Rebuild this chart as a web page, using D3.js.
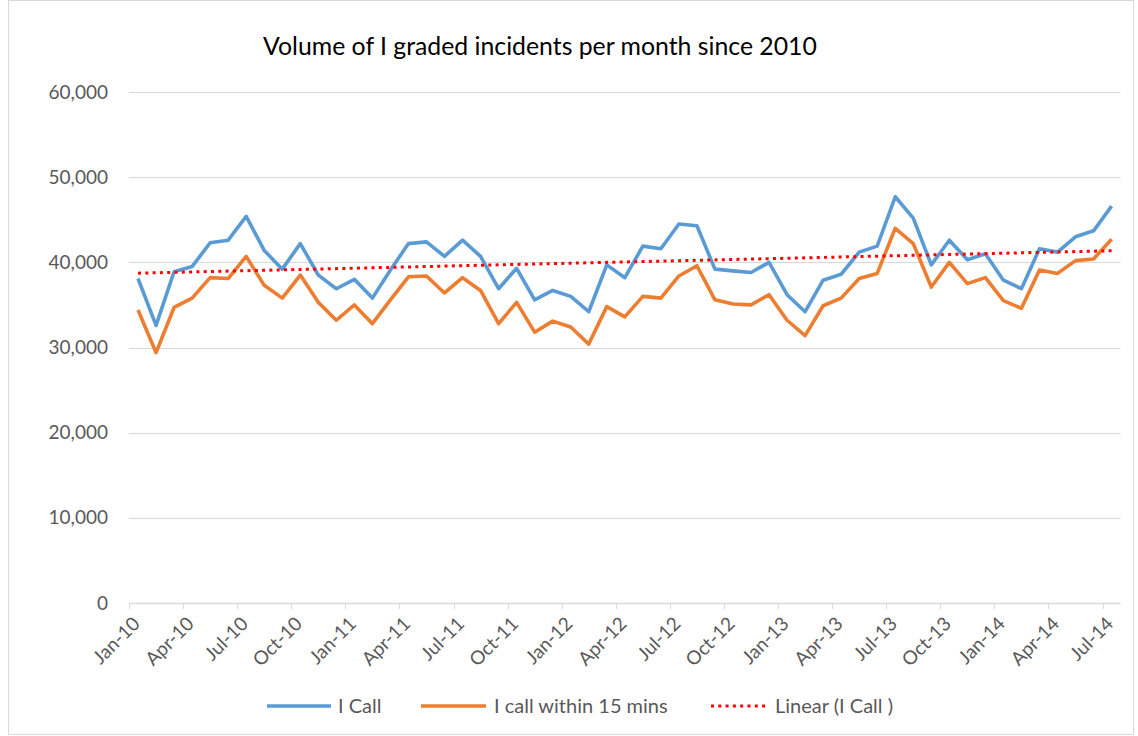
<!DOCTYPE html>
<html>
<head>
<meta charset="utf-8">
<script src="https://cdn.jsdelivr.net/npm/d3@7"></script>
<style>
  html, body { margin: 0; padding: 0; background: #fff; }
  svg { display: block; font-family: Lato, "Open Sans", sans-serif; }
</style>
</head>
<body>
<svg id="chart" width="1138" height="736"></svg>
<script>
// ---- Data ----
const months = [
  "Jan-10","Feb-10","Mar-10","Apr-10","May-10","Jun-10","Jul-10","Aug-10","Sep-10","Oct-10","Nov-10","Dec-10",
  "Jan-11","Feb-11","Mar-11","Apr-11","May-11","Jun-11","Jul-11","Aug-11","Sep-11","Oct-11","Nov-11","Dec-11",
  "Jan-12","Feb-12","Mar-12","Apr-12","May-12","Jun-12","Jul-12","Aug-12","Sep-12","Oct-12","Nov-12","Dec-12",
  "Jan-13","Feb-13","Mar-13","Apr-13","May-13","Jun-13","Jul-13","Aug-13","Sep-13","Oct-13","Nov-13","Dec-13",
  "Jan-14","Feb-14","Mar-14","Apr-14","May-14","Jun-14","Jul-14"
];
const iCall = [
  38100, 32600, 38900, 39500, 42300, 42600, 45400, 41400, 39200, 42200, 38500, 36900,
  38000, 35800, 39100, 42200, 42400, 40700, 42600, 40700, 36900, 39300, 35600, 36700,
  36000, 34200, 39700, 38200, 41900, 41600, 44500, 44300, 39200, 39000, 38800, 40000,
  36200, 34200, 37900, 38600, 41200, 41900, 47700, 45200, 39700, 42600, 40300, 41000,
  37900, 36900, 41600, 41200, 43000, 43700, 46600
];
const iCall15 = [
  34400, 29400, 34700, 35800, 38200, 38100, 40700, 37300, 35800, 38500, 35300, 33200,
  35000, 32800, 35600, 38300, 38400, 36400, 38200, 36700, 32800, 35300, 31800, 33100,
  32400, 30400, 34800, 33600, 36000, 35800, 38400, 39600, 35600, 35100, 35000, 36200,
  33200, 31400, 34900, 35800, 38100, 38700, 44000, 42200, 37100, 40000, 37500, 38200,
  35500, 34600, 39100, 38700, 40200, 40400, 42700
];
const yTicks = [0, 10000, 20000, 30000, 40000, 50000, 60000];
const xTickLabels = ["Jan-10","Apr-10","Jul-10","Oct-10","Jan-11","Apr-11","Jul-11","Oct-11","Jan-12","Apr-12",
  "Jul-12","Oct-12","Jan-13","Apr-13","Jul-13","Oct-13","Jan-14","Apr-14","Jul-14"];
const seriesNames = ["I Call", "I call within 15 mins", "Linear (I Call )"];
const titleText = "Volume of I graded incidents per month since 2010";

// ---- Layout ----
const svg = d3.select("#chart");
const plotL = 129, plotR = 1120.6, plotT = 92, plotB = 603;
const gridColor = "#d9d9d9", textColor = "#595959";
const blue = "#5B9BD5", orange = "#ED7D31", red = "#FF0000";

// outer border
svg.append("rect").attr("x", 8.5).attr("y", 0.5).attr("width", 1125).attr("height", 734)
  .attr("fill", "#fff").attr("stroke", gridColor).attr("stroke-width", 1);

const x = d3.scaleBand().domain(months).range([plotL, plotR]).padding(0);
const y = d3.scaleLinear().domain([0, 60000]).range([plotB, plotT]);
const cx = m => x(m) + x.bandwidth() / 2;

// gridlines
svg.append("g").selectAll("line").data(yTicks.filter(d => d > 0)).join("line")
  .attr("x1", plotL).attr("x2", plotR)
  .attr("y1", d => Math.round(y(d)) + 0.5).attr("y2", d => Math.round(y(d)) + 0.5)
  .attr("stroke", gridColor).attr("stroke-width", 1);

// y axis labels
const fmt = d3.format(",");
svg.append("g").selectAll("text").data(yTicks).join("text")
  .attr("x", 108).attr("y", d => y(d)).attr("dy", "0.35em")
  .attr("text-anchor", "end").attr("fill", textColor)
  .style("font-size", "19px").text(d => fmt(d));

// x axis line and ticks
const xAxisG = svg.append("g");
xAxisG.append("line").attr("x1", plotL).attr("x2", plotR)
  .attr("y1", plotB + 0.5).attr("y2", plotB + 0.5).attr("stroke", gridColor).attr("stroke-width", 1.5);
xAxisG.selectAll("line.tick").data(xTickLabels).join("line").attr("class", "tick")
  .attr("x1", d => Math.round(x(d)) + 0.5).attr("x2", d => Math.round(x(d)) + 0.5)
  .attr("y1", plotB).attr("y2", plotB + 6).attr("stroke", gridColor).attr("stroke-width", 1);
xAxisG.selectAll("text").data(xTickLabels).join("text")
  .attr("transform", d => `translate(${x(d) + 12},${plotB + 22}) rotate(-45)`)
  .attr("text-anchor", "end").attr("fill", textColor)
  .style("font-size", "19px").text(d => d);

// lines
const line = d3.line().x((d, i) => cx(months[i])).y(d => y(d));
svg.append("path").datum(iCall).attr("d", line).attr("fill", "none")
  .attr("stroke", blue).attr("stroke-width", 3.6).attr("stroke-linejoin", "round");
svg.append("path").datum(iCall15).attr("d", line).attr("fill", "none")
  .attr("stroke", orange).attr("stroke-width", 3.6).attr("stroke-linejoin", "round");

// linear trendline (least squares of I Call)
const n = iCall.length;
const xs = d3.range(n);
const mx = d3.mean(xs), my = d3.mean(iCall);
const slope = d3.sum(xs, i => (i - mx) * (iCall[i] - my)) / d3.sum(xs, i => (i - mx) * (i - mx));
const intercept = my - slope * mx;
const trend = [0, n - 1].map(i => ({ m: months[i], v: intercept + slope * i }));
svg.append("path").datum(trend)
  .attr("d", d3.line().x(d => cx(d.m)).y(d => y(d.v)))
  .attr("fill", "none").attr("stroke", red).attr("stroke-width", 3)
  .attr("stroke-dasharray", "3 4.3");

// title
svg.append("text").attr("x", 540).attr("y", 55).attr("text-anchor", "middle")
  .attr("fill", "#000").style("font-size", "24.8px").text(titleText);

// legend
const legend = [
  { name: seriesNames[0], color: blue, x1: 267, x2: 331, tx: 338, dash: null, w: 3.6 },
  { name: seriesNames[1], color: orange, x1: 421, x2: 486, tx: 494, dash: null, w: 3.6 },
  { name: seriesNames[2], color: red, x1: 711, x2: 765, tx: 775, dash: "3 4.3", w: 3 }
];
const lg = svg.append("g");
legend.forEach(l => {
  lg.append("line").attr("x1", l.x1).attr("x2", l.x2).attr("y1", 706).attr("y2", 706)
    .attr("stroke", l.color).attr("stroke-width", l.w)
    .attr("stroke-dasharray", l.dash);
  lg.append("text").attr("x", l.tx).attr("y", 706).attr("dy", "0.35em")
    .attr("fill", textColor).style("font-size", "20px").text(l.name);
});
</script>
</body>
</html>
